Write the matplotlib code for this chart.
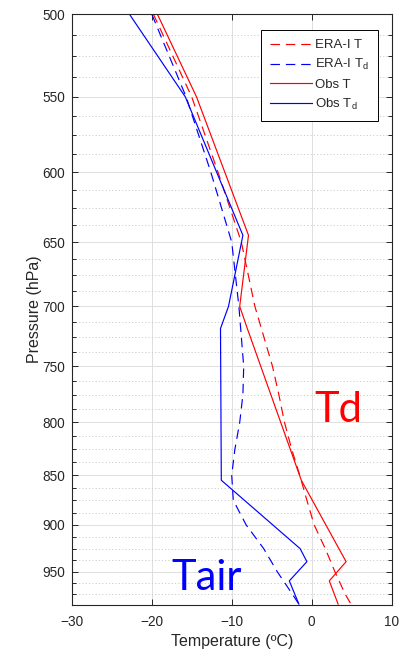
import matplotlib

matplotlib.use("Agg")

import matplotlib.pyplot as plt
from matplotlib.ticker import FixedLocator, FixedFormatter, NullFormatter

# Radiosonde observations (hPa, degC)
obs_p = [986, 960, 939, 925, 855, 718, 700, 645, 550, 500]
obs_t = [3.3, 2.2, 4.3, 3.4, -1.3, -8.05, -9.0, -7.9, -14.4, -19.3]
obs_td = [-1.6, -2.8, -0.6, -1.45, -11.3, -11.4, -10.4, -8.6, -15.8, -22.8]

# ERA-Interim profile on standard pressure levels
era_p = [1000, 975, 950, 925, 900, 875, 850, 825, 800, 775, 750, 700, 650, 600, 550, 500]
era_t = [5.8, 4.2, 2.9, 1.7, 0.3, -0.6, -1.5, -2.5, -3.4, -4.1, -4.9, -7.1, -8.8, -11.7, -15.0, -19.8]
era_td = [-0.6, -2.4, -4.3, -6.0, -8.2, -9.8, -10.0, -9.6, -9.0, -8.6, -8.5, -9.1, -10.0, -12.6, -15.7, -20.0]

p_major = [500, 550, 600, 650, 700, 750, 800, 850, 900, 950]
p_minor = [500 + 12.5 * i for i in range(40) if i % 4]
t_major = [-30, -20, -10, 0, 10]

dark = "#262626"

plt.rcParams["font.family"] = ["Liberation Sans", "DejaVu Sans"]

fig = plt.figure(figsize=(4.03, 6.56), dpi=100)
ax = fig.add_axes([71.7 / 403, 51 / 656, 320 / 403, 591 / 656])

dash = (0, (8, 5))
ax.plot(era_t, era_p, color="red", lw=0.85, linestyle=dash, label="ERA-I T")
ax.plot(era_td, era_p, color="blue", lw=0.85, linestyle=dash,
        label=r"ERA-I T$_\mathregular{d}$")
ax.plot(obs_t, obs_p, color="red", lw=0.85, label="Obs T")
ax.plot(obs_td, obs_p, color="blue", lw=0.85, label=r"Obs T$_\mathregular{d}$")

ax.set_yscale("log")
ax.set_ylim(987, 500)
ax.set_xlim(-30, 10)
ax.yaxis.set_major_locator(FixedLocator(p_major))
ax.yaxis.set_major_formatter(FixedFormatter([str(p) for p in p_major]))
ax.yaxis.set_minor_locator(FixedLocator(p_minor))
ax.yaxis.set_minor_formatter(NullFormatter())
ax.set_xticks(t_major)

ax.grid(True, which="major", color="#dedede", lw=0.7, linestyle="-")
ax.grid(True, which="minor", axis="y", color="#cccccc", lw=0.7, linestyle=(0, (1.2, 2.2)))
ax.set_axisbelow(True)

ax.tick_params(which="both", direction="in", top=True, right=True,
               colors=dark, labelsize=9.8, width=0.7)
ax.tick_params(which="major", length=4)
ax.tick_params(which="minor", length=3)
ax.tick_params(axis="x", pad=7)
ax.tick_params(axis="y", pad=5)
for s in ax.spines.values():
    s.set_color(dark)
    s.set_linewidth(0.8)

ax.set_xlabel("Temperature (ºC)", fontsize=11.5, color=dark, labelpad=4)
ax.set_ylabel("Pressure (hPa)", fontsize=11.5, color=dark, labelpad=0)

leg = ax.legend(loc="upper right", bbox_to_anchor=(0.956, 0.973), borderaxespad=0,
                fontsize=9.5, fancybox=False, framealpha=1, edgecolor="black",
                handlelength=3.2, handletextpad=0.2, labelspacing=0.45,
                borderpad=0.7)
leg.get_frame().set_linewidth(0.7)
for t in leg.get_texts():
    t.set_color(dark)

fig.text(338 / 403, 1 - 422 / 656, "Td", color="red", fontsize=30,
         family="Lato", ha="center", va="baseline")
fig.text(207 / 403, 1 - 590.5 / 656, "Tair", color="blue", fontsize=30,
         family="Lato", ha="center", va="baseline")

fig.savefig("out.png", dpi=100)
